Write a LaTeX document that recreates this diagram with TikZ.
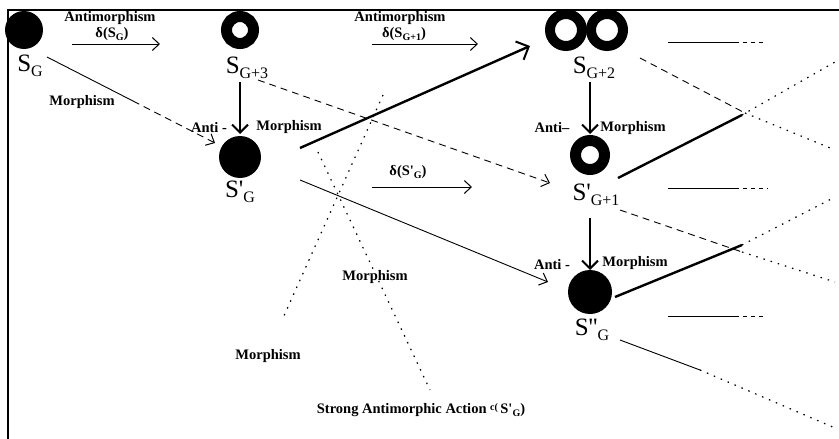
\documentclass[tikz,border=0pt]{standalone}
\usepackage{fontspec}
\setmainfont{Liberation Serif}
\usetikzlibrary{arrows.meta}
\newcommand\Sl[2]{#1\raisebox{-0.45ex}{\fontsize{16}{16}\selectfont #2}}
\newcommand\sm[2]{#1\raisebox{-0.4ex}{\fontsize{10}{10}\selectfont #2}}
\newcommand\pr{\textquotesingle}
\begin{document}
\begin{tikzpicture}[x=1pt,y=-1pt,
  dotc/.style={circle,fill=black,inner sep=0pt},
  ring/.style={circle,draw=black,line width=#1,inner sep=0pt},
  lbl/.style={font=\fontsize{14.5}{15}\selectfont\bfseries,inner sep=0pt},
  slbl/.style={font=\fontsize{25}{25}\selectfont,inner sep=0pt},
  barb/.style={-{Straight Barb[length=7pt,width=13pt,line width=1pt]}},
  bigbarb/.style={-{Straight Barb[length=10pt,width=20pt,line width=2pt]}},
  vbarb/.style={-{Straight Barb[length=8pt,width=16pt,line width=2pt]}},
  thinl/.style={line width=0.9pt},
  thickl/.style={line width=2.4pt},
  dashl/.style={line width=0.9pt,dash pattern=on 7pt off 5pt},
  shortdash/.style={line width=0.9pt,dash pattern=on 4pt off 4pt},
  dotl/.style={line width=1.2pt,dash pattern=on 1.5pt off 6pt},
]
\useasboundingbox (0,0) rectangle (839,439);
\fill[white] (0,0) rectangle (839,439);
\draw[line width=2pt] (8,439) -- (8,10) -- (839,10);

% states
\node[dotc,minimum size=38pt] (SG) at (24,30) {};
\node[ring=11pt,minimum size=27pt] (SG3) at (240,30) {};
\node[ring=10pt,minimum size=32pt] (SG2a) at (566,30) {};
\node[ring=10pt,minimum size=32pt] (SG2b) at (607,30) {};
\node[dotc,minimum size=42pt] (SpG) at (240,157) {};
\node[ring=11pt,minimum size=29pt] (SpG1) at (590,155) {};
\node[dotc,minimum size=44pt] (SppG) at (590,292) {};

% state labels
\node[slbl] (lSG) at (30,66) {\Sl{S}{G}};
\node[slbl] (lSG3) at (247,68) {\Sl{S}{G+3}};
\node[slbl] (lSG2) at (594,68) {\Sl{S}{G+2}};
\node[slbl] (lSpG) at (240,192) {\Sl{S\pr}{G}};
\node[slbl] (lSpG1) at (596,195) {\Sl{S\pr}{G+1}};
\node[slbl] (lSppG) at (592,330) {\Sl{S\pr\pr}{G}};

% text labels
\node[lbl] (t1) at (110,18) {Antimorphism};
\node[lbl] (t2) at (112,34) {δ(\sm{S}{G})};
\node[lbl] (t3) at (400,18) {Antimorphism};
\node[lbl] (t4) at (404,34) {δ(\sm{S}{G+1})};
\node[lbl] (t5) at (408,172) {δ(\sm{S\pr}{G})};
\node[lbl] (t6) at (82,102) {Morphism};
\node[lbl] (t7) at (209,128) {Anti -};
\node[lbl] (t8) at (289,127) {Morphism};
\node[lbl] (t9) at (552,128) {Anti--};
\node[lbl] (t10) at (633,128) {Morphism};
\node[lbl] (t11) at (552,265) {Anti -};
\node[lbl] (t12) at (635,263) {Morphism};
\node[lbl] (t13) at (375,277) {Morphism};
\node[lbl] (t14) at (268,356) {Morphism};
\node[lbl] (t15) at (421,410) {Strong Antimorphic Action \raisebox{0.5ex}{\fontsize{10}{10}\selectfont c(}\,\sm{S\pr}{G})};

% connector end points
\coordinate (a1s) at (72,44);   \coordinate (a1e) at (160,44);
\coordinate (a2s) at (372,44);  \coordinate (a2e) at (478,44);
\coordinate (a3s) at (372,187); \coordinate (a3e) at (472,187);
\coordinate (v1s) at (240,82);  \coordinate (v1e) at (240,134);
\coordinate (v2s) at (590,82);  \coordinate (v2e) at (590,134);
\coordinate (v3s) at (590,218); \coordinate (v3e) at (590,270);
\coordinate (d1s) at (47,57);   \coordinate (d1m) at (133,101); \coordinate (d1e) at (215,143);
\coordinate (d2s) at (258,80);  \coordinate (d2e) at (550,183);
\coordinate (d3s) at (300,148); \coordinate (d3e) at (530,46);
\coordinate (d4s) at (300,180); \coordinate (d4e) at (548,282);
\coordinate (pAs) at (383,95);  \coordinate (pAe) at (283,318);
\coordinate (pBs) at (318,152); \coordinate (pBe) at (430,390);
\coordinate (r1s) at (640,58);  \coordinate (r1m) at (745,113); \coordinate (r1e) at (835,150);
\coordinate (r2s) at (618,178); \coordinate (r2m) at (742,115); \coordinate (r2e) at (835,62);
\coordinate (r3s) at (668,42);  \coordinate (r3m) at (735,42);  \coordinate (r3e) at (765,42);
\coordinate (r4s) at (668,188); \coordinate (r4m) at (735,188); \coordinate (r4e) at (768,188);
\coordinate (r5s) at (620,210); \coordinate (r5m) at (742,252); \coordinate (r5e) at (835,282);
\coordinate (r6s) at (615,297); \coordinate (r6m) at (742,245); \coordinate (r6e) at (835,197);
\coordinate (r7s) at (668,316); \coordinate (r7m) at (735,316); \coordinate (r7e) at (765,316);
\coordinate (r8s) at (620,340); \coordinate (r8m) at (700,370); \coordinate (r8e) at (835,428);

% arrows
\draw[thinl,barb] (a1s) -- (a1e);
\draw[thinl,barb] (a2s) -- (a2e);
\draw[thinl,barb] (a3s) -- (a3e);
\draw[thickl,vbarb] (v1s) -- (v1e);
\draw[thickl,vbarb] (v2s) -- (v2e);
\draw[thickl,vbarb] (v3s) -- (v3e);
\draw[thinl] (d1s) -- (d1m);
\draw[dashl,barb] (d1m) -- (d1e);
\draw[dashl,barb] (d2s) -- (d2e);
\draw[thickl,bigbarb] (d3s) -- (d3e);
\draw[thinl,barb] (d4s) -- (d4e);
\draw[dotl] (pAs) -- (pAe);
\draw[dotl] (pBs) -- (pBe);

% right side
\draw[dashl] (r1s) -- (r1m);
\draw[dotl] (r1m) -- (r1e);
\draw[thickl] (r2s) -- (r2m);
\draw[dotl] (r2m) -- (r2e);
\draw[thinl] (r3s) -- (r3m);
\draw[shortdash] (r3m) -- (r3e);
\draw[thinl] (r4s) -- (r4m);
\draw[shortdash] (r4m) -- (r4e);
\draw[dashl] (r5s) -- (r5m);
\draw[dotl] (r5m) -- (r5e);
\draw[thickl] (r6s) -- (r6m);
\draw[dotl] (r6m) -- (r6e);
\draw[thinl] (r7s) -- (r7m);
\draw[shortdash] (r7m) -- (r7e);
\draw[thinl] (r8s) -- (r8m);
\draw[dotl] (r8m) -- (r8e);
\end{tikzpicture}
\end{document}
